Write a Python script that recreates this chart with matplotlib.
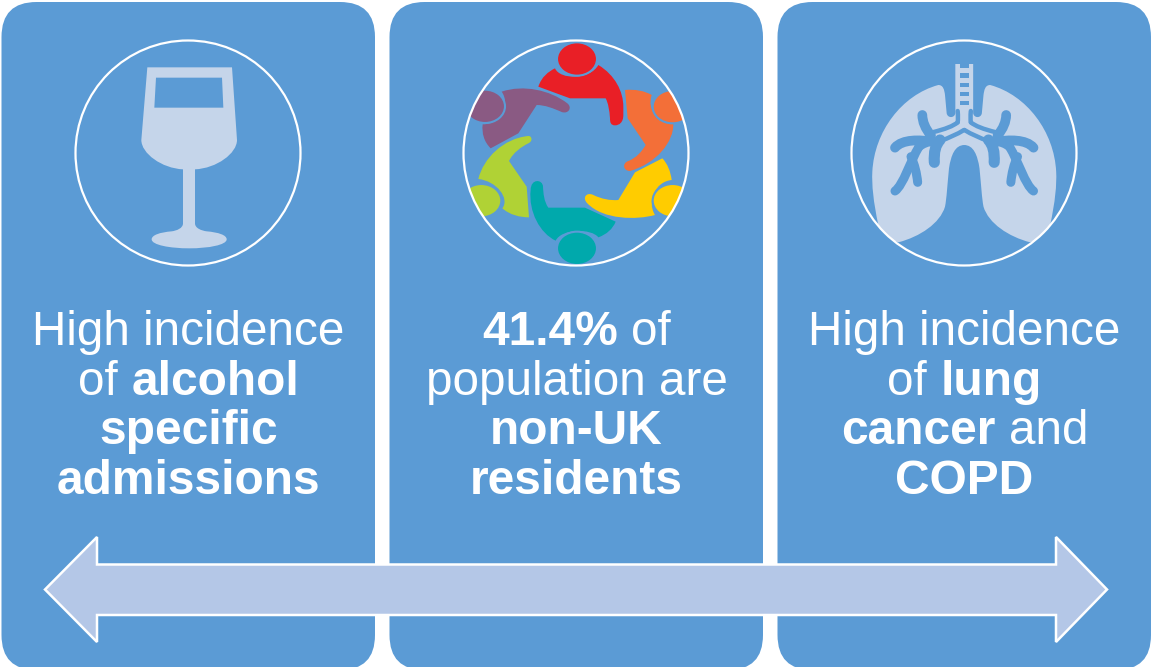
import matplotlib.patches as mpatches
import matplotlib.pyplot as plt
from matplotlib.path import Path
from matplotlib.transforms import Affine2D

plt.rcParams['font.family'] = ['Liberation Sans', 'DejaVu Sans']

PANEL_COLOR = '#5B9BD5'
ICON_COLOR = '#C5D5EA'
ARROW_COLOR = '#B4C7E7'
REGULAR_SIZE = 34.3
BOLD_SIZE = 34.5
SPACE_PX = 13.3

panel_left = [1.5, 389.5, 777.5]
panel_width = 373.5
circle_x = [188, 576, 964]
line_y = [345, 395, 444, 494]

# (text, bold) runs for every line of every panel
panel_1_lines = [
    [('High incidence', False)],
    [('of', False), ('alcohol', True)],
    [('specific', True)],
    [('admissions', True)],
]
panel_2_lines = [
    [('41.4%', True), ('of', False)],
    [('population are', False)],
    [('non-UK', True)],
    [('residents', True)],
]
panel_3_lines = [
    [('High incidence', False)],
    [('of', False), ('lung', True)],
    [('cancer', True), ('and', False)],
    [('COPD', True)],
]
people_colors = ['#E91F26', '#F36F38', '#FFCC00', '#00A9AC', '#B0D235', '#8A5A83']

M, L, C, Z = Path.MOVETO, Path.LINETO, Path.CURVE4, Path.CLOSEPOLY


def shape(start, *segments):
    # each segment is one point (line) or three points (bezier)
    verts = [start]
    codes = [M]
    for seg in segments:
        if len(seg) == 3:
            verts += list(seg)
            codes += [C, C, C]
        else:
            verts += list(seg)
            codes += [L]
    verts.append(start)
    codes.append(Z)
    return Path(verts, codes)


def draw_runs(ax, runs, cx, y):
    renderer = ax.figure.canvas.get_renderer()
    texts = []
    total = 0
    for text, bold in runs:
        t = ax.text(0, y, text, fontsize=BOLD_SIZE if bold else REGULAR_SIZE, color='white',
                    fontweight='bold' if bold else 'normal', va='baseline', ha='left', zorder=6)
        w = t.get_window_extent(renderer).width
        texts.append((t, w))
        total += w
    total += SPACE_PX * (len(runs) - 1)
    x = cx - total / 2
    for t, w in texts:
        t.set_x(x)
        x += w + SPACE_PX


def zoom_tf(ax, ox, oy):
    return Affine2D().scale(1 / 3).translate(ox, oy) + ax.transData


def draw_glass(ax):
    tf = zoom_tf(ax, 70, 40)
    glass = shape(
        (232, 82),
        [(486, 82)],
        [(501, 300)],
        [(501, 340), (440, 385), (375, 388)],
        [(375, 550)],
        [(375, 565), (395, 572), (410, 574)],
        [(445, 577), (470, 585), (470, 598)],
        [(470, 615), (415, 625), (358, 625)],
        [(300, 625), (245, 615), (245, 598)],
        [(245, 585), (270, 577), (305, 574)],
        [(320, 572), (339, 565), (339, 550)],
        [(339, 388)],
        [(275, 385), (214, 340), (214, 300)],
    )
    ax.add_patch(mpatches.PathPatch(glass, fc=ICON_COLOR, ec='none', transform=tf, zorder=3))
    ax.add_patch(mpatches.Polygon([(258, 113), (456, 113), (460, 203), (253, 203)],
                                  fc=PANEL_COLOR, ec='none', transform=tf, zorder=4))


def draw_people(ax, clip):
    tf = zoom_tf(ax, 460, 35)
    red = shape(
        (235, 155),
        [(245, 125), (265, 110), (285, 100)],
        [(300, 135), (390, 135), (415, 90)],
        [(465, 120), (490, 170), (490, 215)],
        [(490, 240)],
        [(490, 262), (478, 271), (465, 271)],
        [(452, 271), (450, 262), (450, 250)],
        [(448, 225), (445, 205), (437, 190)],
        [(330, 190)],
    )
    orange = shape(
        (495, 165),
        [(525, 162), (555, 168), (575, 180)],
        [(560, 225), (595, 268), (640, 265)],
        [(642, 320), (590, 385), (510, 408)],
        [(490, 408), (485, 385), (505, 378)],
        [(530, 368), (545, 350), (557, 330)],
        [(503, 250)],
    )
    yellow = shape(
        (607, 370),
        [(622, 385), (632, 410), (635, 435)],
        [(585, 440), (560, 500), (585, 540)],
        [(530, 555), (430, 555), (382, 505)],
        [(365, 488), (380, 470), (400, 480)],
        [(425, 492), (450, 497), (475, 495)],
        [(525, 412)],
    )
    teal = shape(
        (467, 560),
        [(375, 518)],
        [(265, 518)],
        [(252, 500), (250, 475), (249, 455)],
        [(248, 432), (212, 430), (212, 465)],
        [(205, 530), (240, 595), (287, 617)],
        [(305, 580), (395, 580), (415, 607)],
        [(440, 598), (458, 582), (467, 560)],
    )
    green = shape(
        (205, 303),
        [(130, 310), (70, 370), (55, 432)],
        [(110, 438), (150, 490), (127, 520)],
        [(150, 540), (180, 547), (207, 547)],
        [(200, 455)],
        [(147, 378)],
        [(160, 352), (185, 335), (205, 325)],
        [(220, 318), (215, 302), (205, 303)],
    )
    purple = shape(
        (125, 170),
        [(190, 148), (270, 165), (322, 205)],
        [(338, 218), (325, 238), (305, 231)],
        [(280, 220), (255, 210), (230, 210)],
        [(175, 295)],
        [(92, 340)],
        [(72, 320), (65, 295), (68, 268)],
        [(130, 268), (150, 205), (125, 170)],
    )
    heads = [(351, 72), (638, 215), (638, 497), (351, 640), (64, 497), (75, 214)]
    bodies = [red, orange, yellow, teal, green, purple]
    for body, head, color in zip(bodies, heads, people_colors):
        b = mpatches.PathPatch(body, fc=color, ec='none', transform=tf, zorder=3)
        ax.add_patch(b)
        b.set_clip_path(clip)
        h = mpatches.Ellipse(head, 120, 100, fc=color, ec=PANEL_COLOR, lw=1.5, transform=tf, zorder=4)
        ax.add_patch(h)
        h.set_clip_path(clip)


def draw_lungs(ax, clip):
    base = zoom_tf(ax, 845, 35)
    half = shape(
        (358.5, 330),
        [(330, 330), (318, 360), (312, 400)],
        [(307, 450), (305, 490), (300, 515)],
        [(285, 565), (225, 605), (160, 622)],
        [(125, 610), (105, 590), (100, 570)],
        [(85, 500), (80, 450), (82, 410)],
        [(88, 290), (170, 180), (280, 150)],
        [(295, 150), (298, 165), (300, 180)],
        [(305, 235)],
        [(308, 250), (328, 250), (331, 235)],
        [(331, 87)],
        [(358.5, 87)],
    )
    mirror = Affine2D().scale(-1, 1).translate(715.5, 0)
    for tf in (base, mirror + base):
        lung = mpatches.PathPatch(half, fc=ICON_COLOR, ec='none', transform=tf, zorder=3)
        ax.add_patch(lung)
        lung.set_clip_path(clip)

    for y, h in [(80, 20), (115, 13), (143, 13), (170, 13), (197, 13)]:
        ax.add_patch(mpatches.Rectangle((345, y), 27, h, fc=PANEL_COLOR, ec='none', transform=base, zorder=4))

    branches = [
        ([(232, 240), (232, 270), (258, 302)], 7),
        ([(150, 338), (172, 312), (225, 314), (262, 320)], 7),
        ([(150, 468), (175, 450), (195, 380), (222, 335)], 6.5),
        ([(222, 335), (235, 325), (245, 322), (255, 320)], 6.5),
        ([(218, 442), (214, 400), (198, 365)], 6.5),
        ([(268, 382), (265, 335), (285, 315)], 8),
        ([(262, 292), (320, 278), (338, 262)], 3.2),
        ([(338, 262), (340, 250), (338, 228)], 3.2),
        ([(285, 318), (325, 305), (357, 285)], 3.2),
    ]
    for pts, lw in branches:
        codes = [M, Path.CURVE3, Path.CURVE3] if len(pts) == 3 else [M, C, C, C]
        for tf in (base, mirror + base):
            ax.add_patch(mpatches.PathPatch(Path(pts, codes), fc='none', ec=PANEL_COLOR, lw=lw,
                                            capstyle='round', transform=tf, zorder=5))


fig = plt.figure(figsize=(11.51, 6.67), dpi=100, facecolor='white')
ax = fig.add_axes([0, 0, 1, 1])
ax.set_xlim(0, 1151)
ax.set_ylim(667, 0)
ax.axis('off')
fig.canvas.draw()

for x in panel_left:
    ax.add_patch(mpatches.FancyBboxPatch((x, 2), panel_width, 668,
                                         boxstyle='round,pad=0,rounding_size=35',
                                         fc=PANEL_COLOR, ec='none', zorder=1))

circles = []
for cx in circle_x:
    c = mpatches.Circle((cx, 153), 112.5, fc='none', ec='white', lw=1.6, zorder=8)
    ax.add_patch(c)
    circles.append(c)

draw_glass(ax)
draw_people(ax, circles[1])
draw_lungs(ax, circles[2])

for cx, lines in zip(circle_x, [panel_1_lines, panel_2_lines, panel_3_lines]):
    for y, runs in zip(line_y, lines):
        draw_runs(ax, runs, cx + 0.5, y)

arrow = [(45, 589.5), (97, 537), (97, 564.5), (1056, 564.5), (1056, 537), (1107, 589.5),
         (1056, 642), (1056, 615), (97, 615), (97, 642)]
ax.add_patch(mpatches.Polygon(arrow, closed=True, fc=ARROW_COLOR, ec='white', lw=1.8, zorder=9))

plt.savefig('out.png', dpi=100)
plt.close()
